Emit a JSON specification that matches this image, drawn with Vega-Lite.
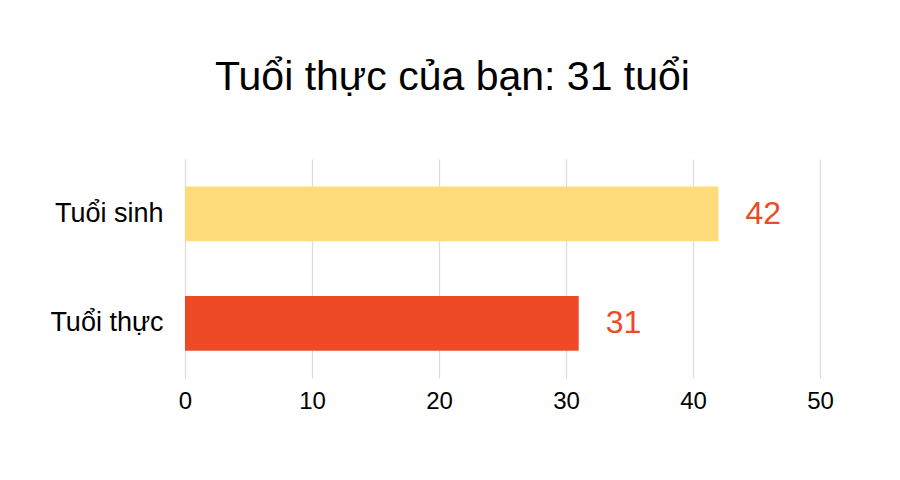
{
  "$schema": "https://vega.github.io/schema/vega-lite/v6.json",
  "autosize": {"type": "none"},
  "width": 635,
  "height": 219,
  "padding": {"left": 185, "top": 159, "right": 80, "bottom": 102},
  "background": "white",
  "config": {"view": {"stroke": null}},
  "title": {"text": "Tuổi thực của bạn: 31 tuổi", "fontSize": 41, "font": "Liberation Sans", "fontWeight": "normal", "color": "#000000", "anchor": "middle", "dx": -50, "offset": 60},
  "data": {"values": [
    {"label": "Tuổi sinh", "age": 42, "color": "#FEDB7B"},
    {"label": "Tuổi thực", "age": 31, "color": "#EE4A25"}
  ]},
  "encoding": {
    "y": {"field": "label", "type": "nominal", "sort": ["Tuổi sinh", "Tuổi thực"], "title": null,
      "scale": {"paddingInner": 0.5, "paddingOuter": 0.25},
      "axis": {"domain": false, "ticks": false, "grid": false, "labelFont": "Liberation Sans", "labelFontSize": 27, "labelColor": "#000000", "labelPadding": 22, "labelLimit": 300}},
    "x": {"field": "age", "type": "quantitative", "title": null,
      "scale": {"domain": [0, 50]},
      "axis": {"values": [0, 10, 20, 30, 40, 50], "domain": false, "ticks": false, "grid": true, "gridColor": "#dcdcdc", "gridWidth": 1.3, "labelFlush": false, "labelFont": "Liberation Sans", "labelFontSize": 24, "labelColor": "#000000", "labelPadding": 11}}
  },
  "layer": [
    {"mark": {"type": "bar"}, "encoding": {"color": {"field": "color", "type": "nominal", "scale": null}}},
    {"mark": {"type": "text", "align": "left", "baseline": "middle", "dx": 27, "fontSize": 32, "font": "Liberation Sans", "color": "#EE4A25"}, "encoding": {"text": {"field": "age", "type": "quantitative"}}}
  ]
}
